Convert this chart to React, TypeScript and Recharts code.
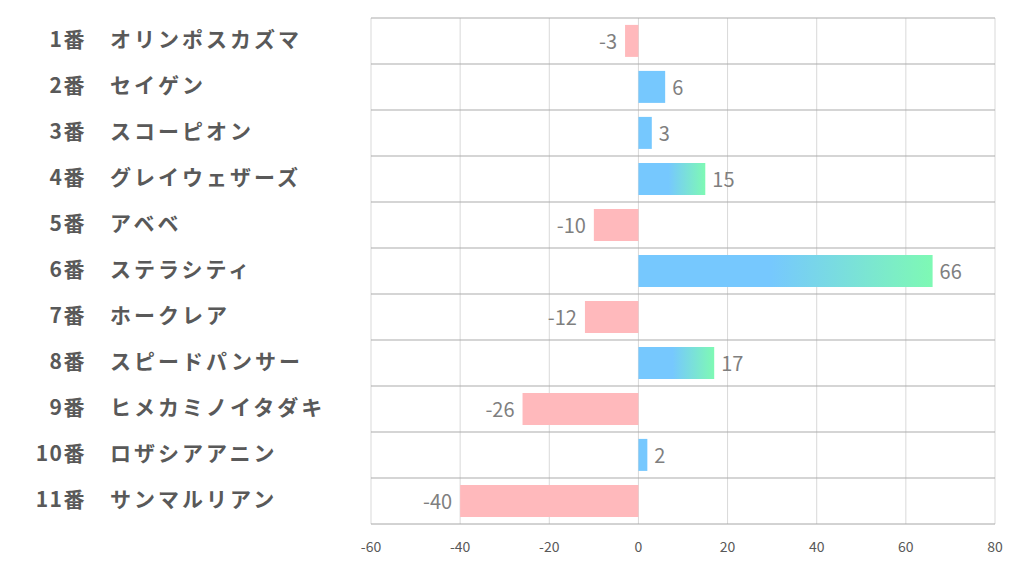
import React from "react";
import { BarChart, Bar, XAxis, YAxis, CartesianGrid, Cell, LabelList } from "recharts";

const numbers = ["1番", "2番", "3番", "4番", "5番", "6番", "7番", "8番", "9番", "10番", "11番"];
const names = ["オリンポスカズマ", "セイゲン", "スコーピオン", "グレイウェザーズ", "アベベ", "ステラシティ", "ホークレア", "スピードパンサー", "ヒメカミノイタダキ", "ロザシアアニン", "サンマルリアン"];
const values = [-3, 6, 3, 15, -10, 66, -12, 17, -26, 2, -40];
const xTicks = [-60, -40, -20, 0, 20, 40, 60, 80];

const data = names.map((n, i) => ({ key: i, num: numbers[i], name: n, value: values[i] }));

const FONT = "'Noto Sans CJK JP', 'Noto Sans', sans-serif";
const BLUE = "#76C8FE";
const GREEN = "#7EF9B4";
const PINK = "#FFB9BC";

const YTick = (props: any) => {
  const { y, payload } = props;
  const d = data[payload.value];
  return (
    <g>
      <text x={86} y={y - 3} textAnchor="end" dominantBaseline="central" fontFamily={FONT} fontWeight={700} fontSize={21} letterSpacing={1.5} fill="#595959">{d.num}</text>
      <text x={110} y={y - 3} textAnchor="start" dominantBaseline="central" fontFamily={FONT} fontWeight={700} fontSize={21} letterSpacing={3} fill="#595959">{d.name}</text>
    </g>
  );
};

const XTick = (props: any) => {
  const { x, y, payload } = props;
  return (
    <text x={x} y={y + 14} textAnchor="middle" dominantBaseline="central" fontFamily={FONT} fontSize={14} fill="#595959">{payload.value}</text>
  );
};

const ValueLabel = (props: any) => {
  const { x, y, width, height, value } = props;
  const neg = value < 0;
  const endX = neg ? Math.min(x, x + width) : Math.max(x, x + width);
  return (
    <text x={neg ? endX - 8 : endX + 7} y={y + height / 2} textAnchor={neg ? "end" : "start"} dominantBaseline="central" fontFamily={FONT} fontSize={20} fill="#7F7F7F">{value}</text>
  );
};

export default function App() {
  return (
    <div style={{ position: "absolute", left: 0, top: 0, width: 1022, height: 574, background: "#fff" }}>
      <BarChart width={1022} height={574} data={data} layout="vertical" margin={{ top: 18, right: 27, bottom: 0, left: 0 }} barCategoryGap="15%">
        <defs>
          <linearGradient id="posGrad" x1="0" y1="0" x2="1" y2="0">
            <stop offset="0%" stopColor={BLUE} />
            <stop offset="45%" stopColor={BLUE} />
            <stop offset="100%" stopColor={GREEN} />
          </linearGradient>
        </defs>
        <CartesianGrid horizontal={false} vertical={true} stroke="#D9D9D9" />
        <CartesianGrid
          vertical={false}
          horizontal={true}
          stroke="#ABABAB"
          horizontalCoordinatesGenerator={({ offset }: any) => {
            const arr: number[] = [];
            for (let i = 0; i <= names.length - 1; i++) arr.push(offset.top + (i * offset.height) / names.length);
            return arr;
          }}
        />
        <XAxis type="number" domain={[-60, 80]} ticks={xTicks} height={50} tickLine={false} axisLine={{ stroke: "#A6A6A6" }} tick={<XTick />} interval={0} />
        <YAxis type="category" dataKey="key" width={371} tickLine={false} axisLine={false} tick={<YTick />} interval={0} />
        <Bar dataKey="value" isAnimationActive={false}>
          {data.map((d) => (
            <Cell key={d.key} fill={d.value < 0 ? PINK : d.value >= 10 ? "url(#posGrad)" : BLUE} />
          ))}
          <LabelList dataKey="value" content={<ValueLabel />} />
        </Bar>
      </BarChart>
    </div>
  );
}
